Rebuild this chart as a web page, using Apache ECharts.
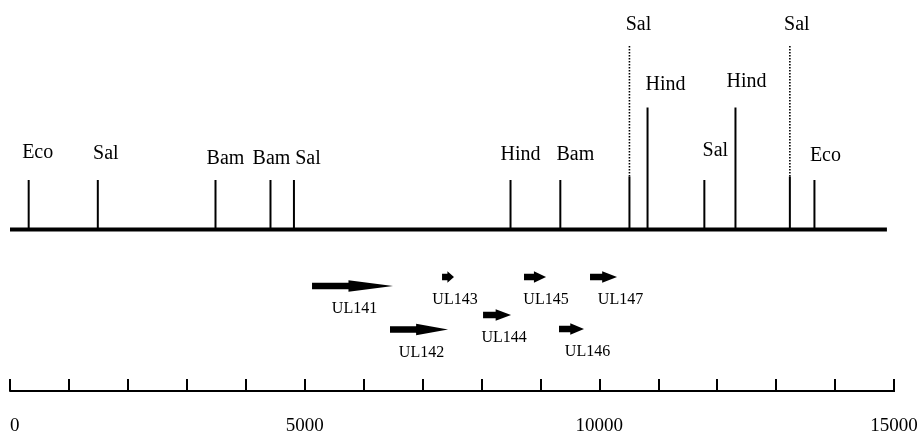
<!DOCTYPE html>
<html>
<head>
<meta charset="utf-8">
<script src="https://cdn.jsdelivr.net/npm/echarts@6/dist/echarts.min.js"></script>
<style>
html,body{margin:0;padding:0;background:#fff;}
#chart{width:917px;height:433px;}
</style>
</head>
<body>
<div id="chart"></div>
<script>
// ---- data (bp positions) ----
const enzymes  = ['Eco','Sal','Bam','Bam','Sal','Hind','Bam','Sal','Hind','Sal','Hind','Sal','Eco'];
const sitePos  = [317, 1490, 3487, 4420, 4818, 8493, 9338, 10511, 10818, 11782, 12310, 13233, 13650];
const siteKind = ['short','short','short','short','short','short','short','dotted','tall','short','tall','dotted','short'];
const mapRange = [0, 14880];
const genes     = ['UL141','UL142','UL143','UL144','UL145','UL146','UL147'];
const geneStart = [5125, 6448, 7331, 8027, 8722, 9316, 9842];
const geneEnd   = [6499, 7433, 7534, 8502, 9096, 9740, 10300];
const scaleLabels = ['0','5000','10000','15000'];

// ---- layout (not data) ----
const MAP_LEVEL = 161.5;                      // track level of the map line
const kindHeight = {short: 49.5, tall: 122, dotted: 184};
const DOTTED_SOLID = 53;
const siteLabelDx = [9, 8, 10, 1, 14, 10, 15, 9, 18, 11, 11, 7, 11];
const siteLabelDy = [27, 26, 21, 21, 21, 25.7, 25.7, 20.7, 22.7, 29, 25.7, 20.7, 24.7];
const geneRow     = [105, 61.5, 114, 76, 114, 62, 114];
const geneLabelDx = [2, 2.5, 7, 7, 11, 16, 17];
const SERIF = '"Liberation Serif", "DejaVu Serif", serif';

const chart = echarts.init(document.getElementById('chart'), null, {renderer: 'canvas'});

const siteData = sitePos.map((p, i) => [p, i]);
const geneData = genes.map((g, i) => [geneStart[i], geneEnd[i], i]);

const option = {
  backgroundColor: '#fff',
  animation: false,
  grid: {left: 10, right: 23, top: 0, bottom: 42, containLabel: false, outerBoundsMode: 'none'},
  xAxis: {
    type: 'value', min: 0, max: 15000, interval: 1000,
    axisLine: {show: true, onZero: false, lineStyle: {color: '#000', width: 2}},
    axisTick: {show: true, inside: true, length: 12, lineStyle: {color: '#000', width: 2}},
    splitLine: {show: false},
    axisLabel: {
      show: true, margin: 26, color: '#000', fontSize: 19, fontFamily: SERIF,
      showMinLabel: true, showMaxLabel: true, alignMinLabel: 'left',
      formatter: v => { const s = String(v); return scaleLabels.indexOf(s) >= 0 ? s : ''; }
    }
  },
  yAxis: {type: 'value', min: 0, max: 391, show: false},
  series: [
    { // scale bar tail beyond last tick
      type: 'line', data: [[15000, 0], [15220, 0]], symbol: 'none', clip: false, silent: true,
      lineStyle: {color: '#000', width: 2}
    },
    { // map backbone
      type: 'line', data: [[mapRange[0], MAP_LEVEL], [mapRange[1], MAP_LEVEL]], symbol: 'none', silent: true,
      lineStyle: {color: '#000', width: 4}
    },
    { // restriction sites
      type: 'custom', clip: false, silent: true,
      data: siteData,
      encode: {x: 0},
      renderItem: function (params, api) {
        const i = api.value(1);
        const pos = api.value(0);
        const kind = siteKind[i];
        const base = api.coord([pos, MAP_LEVEL]);
        const top = api.coord([pos, MAP_LEVEL + kindHeight[kind]]);
        const children = [];
        if (kind === 'dotted') {
          const mid = api.coord([pos, MAP_LEVEL + DOTTED_SOLID]);
          children.push({type: 'line', shape: {x1: base[0], y1: base[1], x2: mid[0], y2: mid[1]},
            style: {stroke: '#000', lineWidth: 2}});
          children.push({type: 'line', shape: {x1: mid[0], y1: mid[1], x2: top[0], y2: top[1]},
            style: {stroke: '#000', lineWidth: 1.6, lineDash: [1.5, 1.5]}});
        } else {
          children.push({type: 'line', shape: {x1: base[0], y1: base[1], x2: top[0], y2: top[1]},
            style: {stroke: '#000', lineWidth: 2}});
        }
        children.push({type: 'text', style: {
          text: enzymes[i], x: top[0] + siteLabelDx[i], y: top[1] - siteLabelDy[i],
          align: 'center', verticalAlign: 'middle',
          fontSize: 20, fontFamily: SERIF, fill: '#000'
        }});
        return {type: 'group', children: children};
      }
    },
    { // genes (arrows)
      type: 'custom', clip: false, silent: true,
      data: geneData,
      encode: {x: [0, 1]},
      renderItem: function (params, api) {
        const i = api.value(2);
        const s = api.coord([api.value(0), geneRow[i]]);
        const e = api.coord([api.value(1), geneRow[i]]);
        const c = s[1];
        const len = e[0] - s[0];
        const h = 0.55 * len;
        const sh = 3.2, hh = 5.8;
        const pts = [[s[0], c - sh], [e[0] - h, c - sh], [e[0] - h, c - hh], [e[0], c],
                     [e[0] - h, c + hh], [e[0] - h, c + sh], [s[0], c + sh]];
        return {type: 'group', children: [
          {type: 'polygon', shape: {points: pts}, style: {fill: '#000'}},
          {type: 'text', style: {
            text: genes[i], x: (s[0] + e[0]) / 2 + geneLabelDx[i], y: c + 23,
            align: 'center', verticalAlign: 'middle',
            fontSize: 16, fontFamily: SERIF, fill: '#000'
          }}
        ]};
      }
    }
  ]
};
chart.setOption(option);
</script>
</body>
</html>
